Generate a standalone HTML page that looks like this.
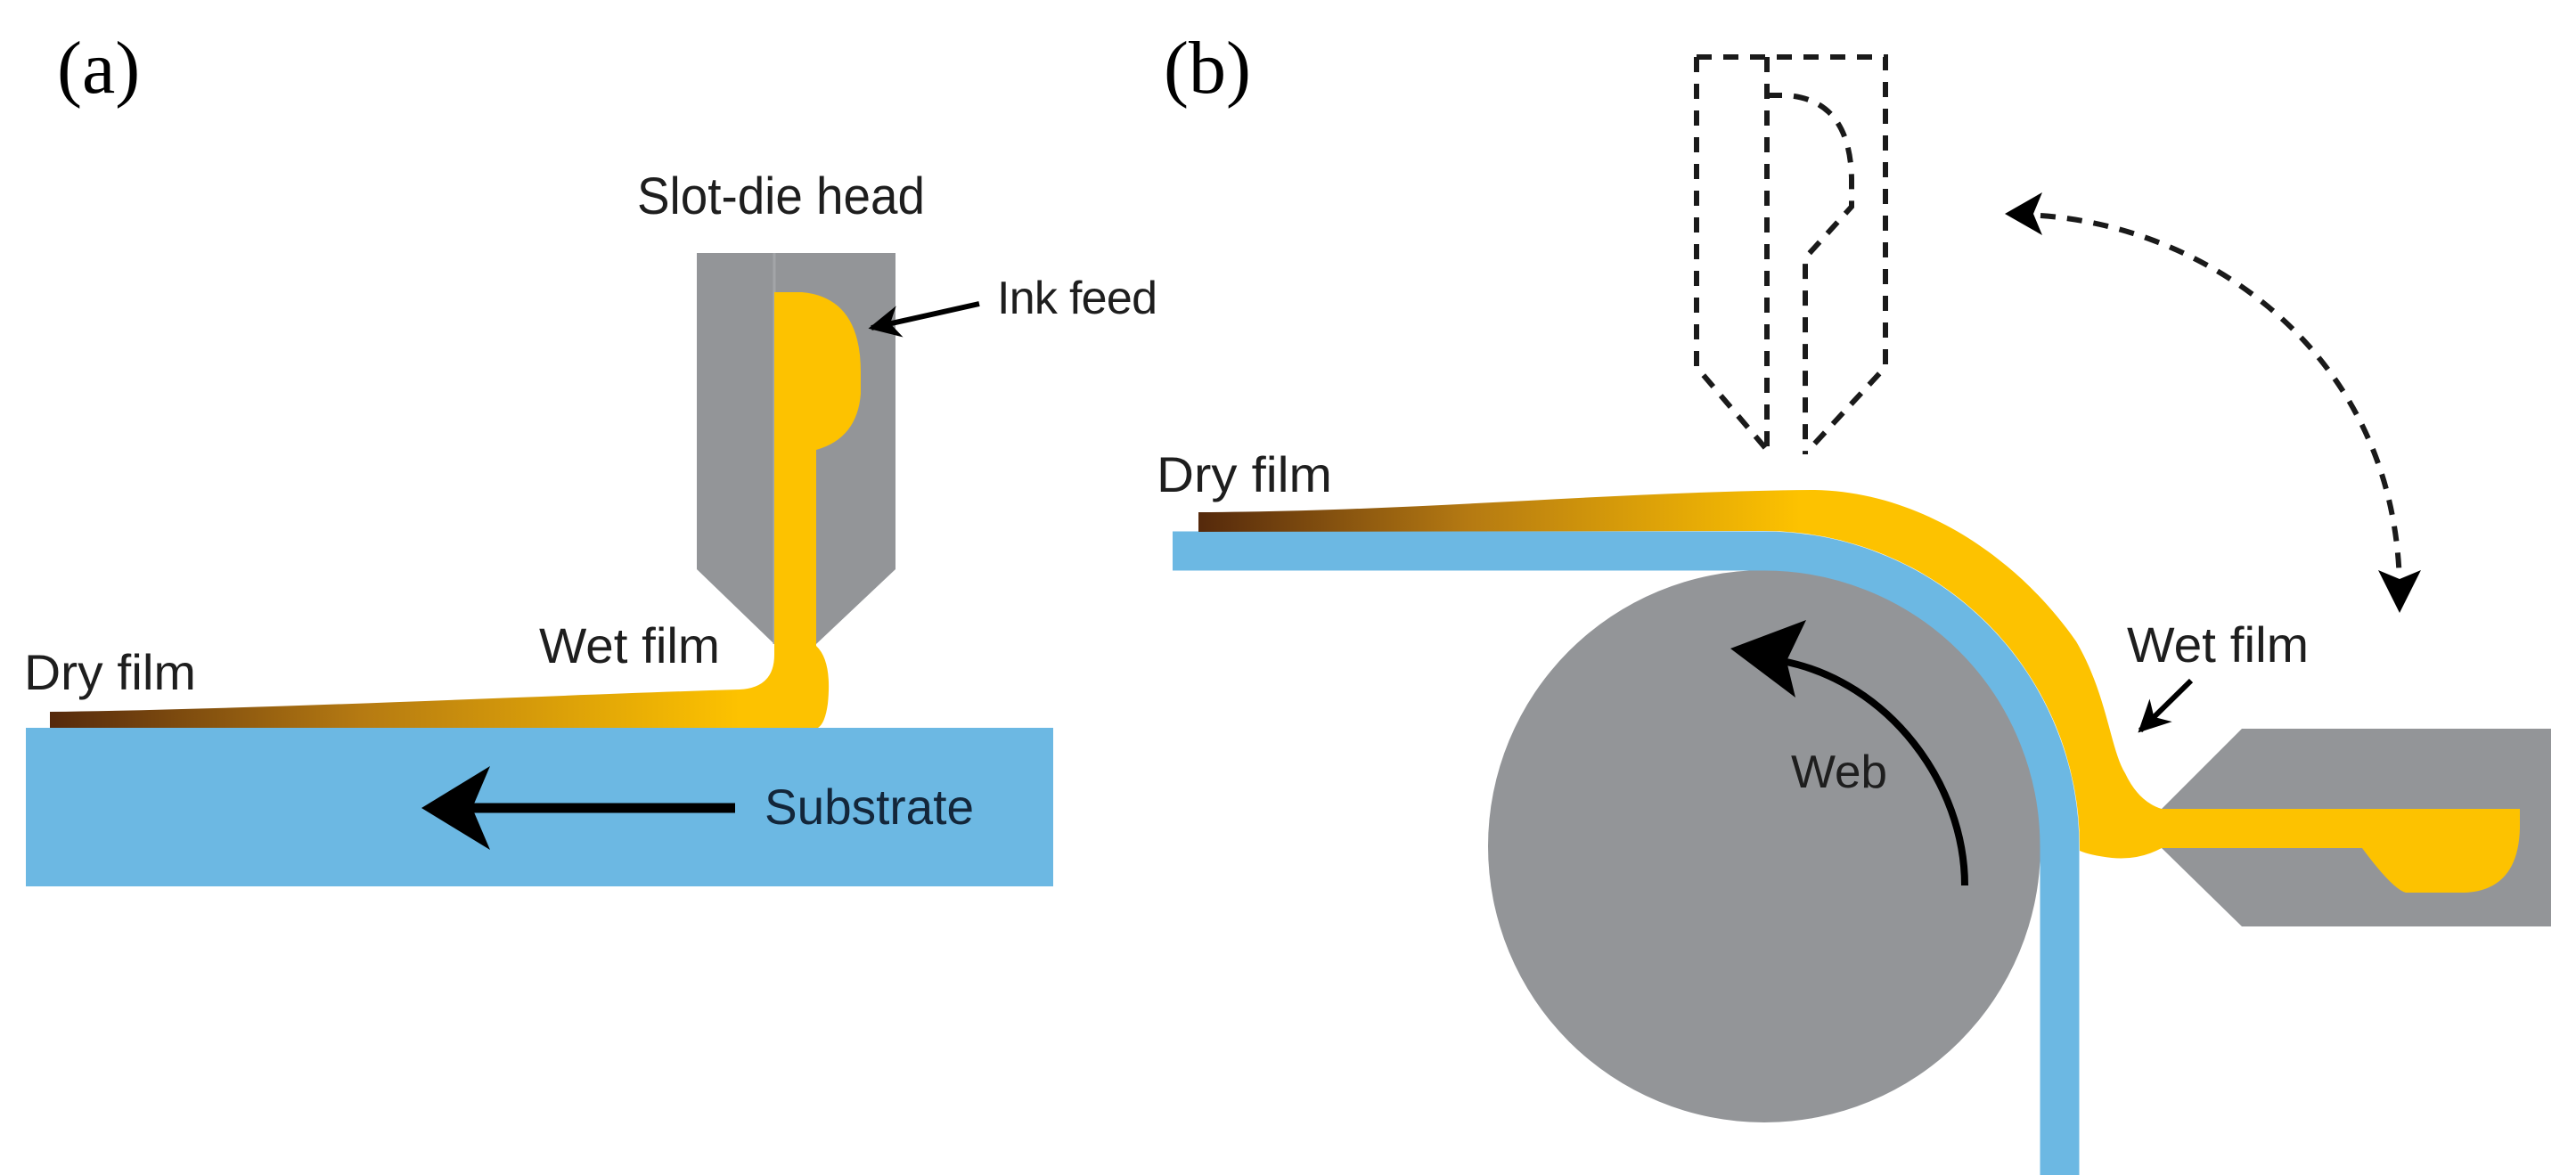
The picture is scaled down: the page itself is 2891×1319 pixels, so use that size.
<!DOCTYPE html>
<html><head><meta charset="utf-8"><style>
html,body{margin:0;padding:0;background:#fff;}
svg{display:block;}
text{font-family:"Liberation Sans",sans-serif;fill:#1e1e1e;}
.lbl{font-family:"Liberation Serif",serif;fill:#000;}
</style></head><body>
<svg width="2891" height="1319" viewBox="0 0 2891 1319" xmlns="http://www.w3.org/2000/svg">
<defs>
<linearGradient id="ga" gradientUnits="userSpaceOnUse" x1="56" y1="0" x2="830" y2="0">
<stop offset="0" stop-color="#55290c"/><stop offset="0.45" stop-color="#b57a12"/><stop offset="1" stop-color="#fdc200"/>
</linearGradient>
<linearGradient id="gb" gradientUnits="userSpaceOnUse" x1="1345" y1="0" x2="2020" y2="0">
<stop offset="0" stop-color="#55290c"/><stop offset="0.45" stop-color="#b57a12"/><stop offset="1" stop-color="#fdc200"/>
</linearGradient>
<marker id="ah" viewBox="0 0 10 10" refX="9" refY="5" markerUnits="userSpaceOnUse" markerWidth="40" markerHeight="36" orient="auto-start-reverse">
<path d="M0,0 L10,5 L0,10 L3,5 Z" fill="#000"/>
</marker>
</defs>

<!-- Panel (a) -->
<text class="lbl" x="64" y="104" font-size="84">(a)</text>
<text x="715" y="240" font-size="58" textLength="323" lengthAdjust="spacingAndGlyphs">Slot-die head</text>
<text x="1119" y="352" font-size="52" textLength="180" lengthAdjust="spacing">Ink feed</text>
<text x="605" y="744" font-size="56" textLength="203" lengthAdjust="spacingAndGlyphs">Wet film</text>
<text x="27" y="774" font-size="56" textLength="193" lengthAdjust="spacingAndGlyphs">Dry film</text>

<polygon points="782,284 1005,284 1005,639 916,723 869,723 782,639" fill="#939598"/>
<line x1="869" y1="284" x2="869" y2="723" stroke="#a3a5a8" stroke-width="3"/>
<rect x="29" y="817" width="1153" height="178" fill="#6cb8e3"/>
<path d="M56,817 L56,799 C300,796 600,781 830,774 Q869,772 869,735 L869,328 L900,328 Q966,334 966,418 L966,442 Q962,492 916,505 L916,725 Q934,742 929,790 Q926,812 918,817 Z" fill="url(#ga)"/>
<line x1="825" y1="907" x2="530" y2="907" stroke="#000" stroke-width="11"/>
<polygon points="473,907 550,860 530,907 550,954" fill="#000"/>
<text x="858" y="925" font-size="56" textLength="235" lengthAdjust="spacingAndGlyphs" style="fill:#13263a">Substrate</text>
<line x1="1099" y1="341" x2="978" y2="368" stroke="#000" stroke-width="6" marker-end="url(#ah)"/>

<!-- Panel (b) -->
<text class="lbl" x="1306" y="104" font-size="84">(b)</text>

<g fill="none" stroke="#1a1a1a" stroke-width="6" stroke-dasharray="17 13">
<path d="M1904,64 L2116,64 L2116,412 L2030,505"/>
<path d="M1904,64 L1904,412 L1983,505"/>
<path d="M1983,64 L1983,510"/>
<path d="M1983,107 L2005,107 Q2076,112 2078,200 L2078,232 L2030,285 L2026,295 L2026,510"/>
<path d="M2290,242 C2480,255 2690,400 2693,660" />
</g>
<polygon points="2250,240 2292,216 2282,240 2292,264" fill="#000"/>
<polygon points="2693,688 2669,640 2693,650 2717,640" fill="#000"/>

<circle cx="1980" cy="950" r="310" fill="#939598"/>
<path d="M1316,618.5 L1980,618.5 A331.5,331.5 0 0 1 2311.5,950 L2311.5,1319" fill="none" stroke="#6cb8e3" stroke-width="44"/>
<path d="M1345,597 L1345,575 C1600,574 1800,552 2037,550 C2150,552 2260,620 2330,720 C2365,780 2368,840 2385,868 Q2400,900 2426,908 L2426,952 Q2400,966 2370,963 Q2345,960 2334,955 L2334,950 A354,354 0 0 0 1980,596 Z" fill="url(#gb)"/>

<polygon points="2516,818 2863,818 2863,1040 2516,1040 2426,952 2426,908" fill="#939598"/>
<path d="M2426,908 L2828,908 L2828,930 Q2826,1000 2765,1002 L2700,1002 Q2685,998 2651,952 L2426,952 Z" fill="#fdc200"/>

<path d="M2205,994 C2205,880 2120,765 2000,742" fill="none" stroke="#000" stroke-width="8"/>
<polygon points="1942,728 2027,696 2005,742 2015,783" fill="#000"/>
<text x="2010" y="884" font-size="52" textLength="108" lengthAdjust="spacingAndGlyphs">Web</text>

<text x="1298" y="552" font-size="56" textLength="197" lengthAdjust="spacingAndGlyphs">Dry film</text>
<text x="2387" y="743" font-size="56" textLength="204" lengthAdjust="spacingAndGlyphs">Wet film</text>
<line x1="2459" y1="764" x2="2402" y2="820" stroke="#000" stroke-width="6" marker-end="url(#ah)"/>
</svg>
</body></html>
